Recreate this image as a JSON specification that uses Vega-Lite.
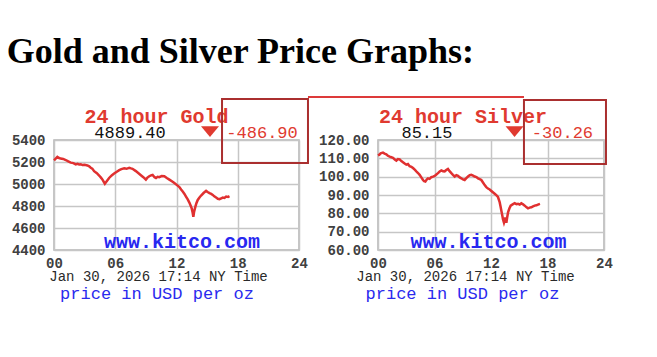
{
  "$schema": "https://vega.github.io/schema/vega-lite/v6.json",
  "background": "white",
  "padding": {"left": 6, "top": 34, "right": 5, "bottom": 5},
  "title": {"text": "Gold and Silver Price Graphs:", "font": "Liberation Serif", "fontSize": 36, "fontWeight": "bold", "color": "black", "anchor": "start", "dx": -4, "offset": 24},
  "bounds": "flush",
  "spacing": 79,
  "config": {
    "view": {"stroke": "#b4b4b4", "strokeWidth": 1.5},
    "axis": {"grid": true, "gridColor": "#c6c6c6", "gridWidth": 1.5, "domain": false, "ticks": false, "tickSize": 0, "labelFont": "Liberation Mono", "labelFontSize": 14, "labelFontWeight": "bold", "labelColor": "#404040", "labelOverlap": false, "tickCount": 12},
    "axisX": {"labelPadding": 6, "labelFlush": false},
    "axisY": {"labelPadding": 9}
  },
  "datasets": {
    "gold": [
      {"h": 0, "p": 5215}, {"h": 0.33, "p": 5246}, {"h": 0.5, "p": 5236}, {"h": 0.65, "p": 5231}, {"h": 0.9, "p": 5228},
      {"h": 1.15, "p": 5218}, {"h": 1.4, "p": 5205}, {"h": 1.64, "p": 5194}, {"h": 1.9, "p": 5190}, {"h": 2.13, "p": 5178},
      {"h": 2.3, "p": 5184}, {"h": 2.46, "p": 5178}, {"h": 2.62, "p": 5180}, {"h": 2.78, "p": 5172}, {"h": 3.0, "p": 5174},
      {"h": 3.27, "p": 5169}, {"h": 3.45, "p": 5160}, {"h": 3.6, "p": 5148}, {"h": 3.75, "p": 5140}, {"h": 3.93, "p": 5117},
      {"h": 4.2, "p": 5098}, {"h": 4.42, "p": 5077}, {"h": 4.6, "p": 5058}, {"h": 4.75, "p": 5040}, {"h": 4.98, "p": 5003},
      {"h": 5.2, "p": 5030}, {"h": 5.4, "p": 5055}, {"h": 5.65, "p": 5078}, {"h": 5.89, "p": 5095}, {"h": 6.15, "p": 5112},
      {"h": 6.39, "p": 5126}, {"h": 6.6, "p": 5135}, {"h": 6.88, "p": 5142}, {"h": 7.1, "p": 5138}, {"h": 7.37, "p": 5148},
      {"h": 7.55, "p": 5142}, {"h": 7.69, "p": 5138}, {"h": 8.02, "p": 5117}, {"h": 8.25, "p": 5100}, {"h": 8.51, "p": 5080},
      {"h": 8.75, "p": 5062}, {"h": 9.0, "p": 5040}, {"h": 9.15, "p": 5058}, {"h": 9.33, "p": 5071}, {"h": 9.5, "p": 5079},
      {"h": 9.66, "p": 5083}, {"h": 9.85, "p": 5062}, {"h": 9.99, "p": 5055}, {"h": 10.15, "p": 5066}, {"h": 10.31, "p": 5062},
      {"h": 10.55, "p": 5072}, {"h": 10.81, "p": 5071}, {"h": 11.05, "p": 5055}, {"h": 11.3, "p": 5040}, {"h": 11.55, "p": 5025},
      {"h": 11.79, "p": 5009}, {"h": 12.05, "p": 4990}, {"h": 12.28, "p": 4972}, {"h": 12.45, "p": 4950}, {"h": 12.61, "p": 4932},
      {"h": 12.78, "p": 4910}, {"h": 12.93, "p": 4886}, {"h": 13.1, "p": 4860}, {"h": 13.26, "p": 4831}, {"h": 13.4, "p": 4800},
      {"h": 13.49, "p": 4778}, {"h": 13.58, "p": 4740}, {"h": 13.65, "p": 4701}, {"h": 13.72, "p": 4745}, {"h": 13.85, "p": 4794},
      {"h": 13.95, "p": 4825}, {"h": 14.08, "p": 4855}, {"h": 14.25, "p": 4878}, {"h": 14.41, "p": 4895}, {"h": 14.65, "p": 4918},
      {"h": 14.9, "p": 4938}, {"h": 15.05, "p": 4928}, {"h": 15.23, "p": 4917}, {"h": 15.4, "p": 4910}, {"h": 15.55, "p": 4901},
      {"h": 15.7, "p": 4888}, {"h": 15.88, "p": 4877}, {"h": 16.05, "p": 4866}, {"h": 16.21, "p": 4862}, {"h": 16.38, "p": 4870},
      {"h": 16.54, "p": 4877}, {"h": 16.7, "p": 4874}, {"h": 16.86, "p": 4886}, {"h": 17.05, "p": 4882}, {"h": 17.19, "p": 4889}
    ],
    "silver": [
      {"h": 0, "p": 111.6}, {"h": 0.15, "p": 112.0}, {"h": 0.28, "p": 112.7}, {"h": 0.53, "p": 113.1}, {"h": 0.7, "p": 112.6},
      {"h": 0.88, "p": 112.2}, {"h": 1.05, "p": 111.4}, {"h": 1.24, "p": 110.9}, {"h": 1.42, "p": 110.6}, {"h": 1.59, "p": 110.3},
      {"h": 1.78, "p": 109.4}, {"h": 1.95, "p": 108.8}, {"h": 2.12, "p": 109.6}, {"h": 2.3, "p": 109.4}, {"h": 2.48, "p": 108.5},
      {"h": 2.65, "p": 107.9}, {"h": 2.83, "p": 107.2}, {"h": 3.01, "p": 106.6}, {"h": 3.18, "p": 106.9}, {"h": 3.36, "p": 105.7},
      {"h": 3.55, "p": 105.3}, {"h": 3.72, "p": 104.7}, {"h": 3.9, "p": 103.8}, {"h": 4.07, "p": 102.9}, {"h": 4.25, "p": 102.0},
      {"h": 4.42, "p": 101.0}, {"h": 4.6, "p": 99.6}, {"h": 4.78, "p": 98.2}, {"h": 4.9, "p": 97.5}, {"h": 5.03, "p": 97.3},
      {"h": 5.17, "p": 98.4}, {"h": 5.31, "p": 99.1}, {"h": 5.48, "p": 98.8}, {"h": 5.66, "p": 99.7}, {"h": 5.84, "p": 100.0},
      {"h": 6.02, "p": 100.4}, {"h": 6.2, "p": 101.2}, {"h": 6.37, "p": 101.9}, {"h": 6.55, "p": 102.8}, {"h": 6.73, "p": 103.4},
      {"h": 6.9, "p": 103.0}, {"h": 7.08, "p": 102.9}, {"h": 7.25, "p": 103.6}, {"h": 7.43, "p": 104.2}, {"h": 7.6, "p": 103.0},
      {"h": 7.79, "p": 101.9}, {"h": 7.96, "p": 101.0}, {"h": 8.14, "p": 100.1}, {"h": 8.32, "p": 100.8}, {"h": 8.5, "p": 100.4},
      {"h": 8.68, "p": 99.6}, {"h": 8.85, "p": 99.1}, {"h": 9.02, "p": 98.5}, {"h": 9.2, "p": 98.2}, {"h": 9.38, "p": 99.2},
      {"h": 9.56, "p": 100.1}, {"h": 9.74, "p": 100.8}, {"h": 9.91, "p": 101.0}, {"h": 10.1, "p": 100.6}, {"h": 10.27, "p": 100.1},
      {"h": 10.45, "p": 99.8}, {"h": 10.62, "p": 99.1}, {"h": 10.8, "p": 98.7}, {"h": 10.97, "p": 98.2}, {"h": 11.15, "p": 96.8},
      {"h": 11.33, "p": 95.4}, {"h": 11.5, "p": 94.3}, {"h": 11.68, "p": 93.5}, {"h": 11.86, "p": 93.0}, {"h": 12.04, "p": 92.2},
      {"h": 12.2, "p": 91.5}, {"h": 12.39, "p": 90.7}, {"h": 12.56, "p": 89.9}, {"h": 12.74, "p": 88.9}, {"h": 12.92, "p": 86.1},
      {"h": 13.02, "p": 83.6}, {"h": 13.1, "p": 81.4}, {"h": 13.2, "p": 78.8}, {"h": 13.27, "p": 76.8}, {"h": 13.38, "p": 74.9},
      {"h": 13.45, "p": 76.0}, {"h": 13.52, "p": 77.7}, {"h": 13.58, "p": 76.2}, {"h": 13.63, "p": 74.9}, {"h": 13.72, "p": 77.8},
      {"h": 13.81, "p": 80.5}, {"h": 13.95, "p": 82.6}, {"h": 14.09, "p": 84.2}, {"h": 14.3, "p": 84.9}, {"h": 14.51, "p": 85.5},
      {"h": 14.7, "p": 85.0}, {"h": 14.87, "p": 85.2}, {"h": 15.05, "p": 84.8}, {"h": 15.22, "p": 85.5}, {"h": 15.4, "p": 84.9},
      {"h": 15.58, "p": 84.2}, {"h": 15.75, "p": 83.4}, {"h": 15.93, "p": 82.7}, {"h": 16.1, "p": 83.1}, {"h": 16.28, "p": 83.3},
      {"h": 16.46, "p": 83.8}, {"h": 16.64, "p": 84.2}, {"h": 16.82, "p": 84.4}, {"h": 16.99, "p": 84.8}, {"h": 17.2, "p": 85.2}
    ]
  },
  "hconcat": [
    {
      "width": 245,
      "height": 110,
      "layer": [
        {
          "data": {"name": "gold"},
          "mark": {"type": "line", "color": "#e03030", "strokeWidth": 2.5},
          "encoding": {
            "x": {"field": "h", "type": "quantitative", "scale": {"domain": [0, 24], "nice": false}, "axis": {"title": null, "values": [0, 6, 12, 18, 24], "tickCount": 12, "labelExpr": "datum.value < 10 ? '0' + datum.value : '' + datum.value"}},
            "y": {"field": "p", "type": "quantitative", "scale": {"domain": [4400, 5400], "nice": false, "zero": false}, "axis": {"title": null, "values": [4400, 4600, 4800, 5000, 5200, 5400], "tickCount": 12, "format": "d"}}
          }
        },
        {
          "data": {"values": [{"t": "24 hour Gold"}]},
          "mark": {"type": "text", "font": "Liberation Mono", "fontSize": 20, "fontWeight": "bold", "color": "#e03a30", "align": "center", "baseline": "alphabetic"},
          "encoding": {"x": {"datum": 10.04, "type": "quantitative"}, "y": {"datum": 5555, "type": "quantitative"}, "text": {"field": "t"}}
        },
        {
          "data": {"values": [{"t": "4889.40"}]},
          "mark": {"type": "text", "font": "Liberation Mono", "fontSize": 17, "color": "#111111", "align": "center", "baseline": "alphabetic"},
          "encoding": {"x": {"datum": 7.45, "type": "quantitative"}, "y": {"datum": 5418, "type": "quantitative"}, "text": {"field": "t"}}
        },
        {
          "data": {"values": [{"t": "-486.90"}]},
          "mark": {"type": "text", "font": "Liberation Mono", "fontSize": 17, "color": "#e03a30", "align": "center", "baseline": "alphabetic"},
          "encoding": {"x": {"datum": 20.38, "type": "quantitative"}, "y": {"datum": 5418, "type": "quantitative"}, "text": {"field": "t"}}
        },
        {
          "data": {"values": [{"dir": "down"}]},
          "mark": {"type": "point", "shape": "M-1,-0.6L1,-0.6L0,0.6Z", "filled": true, "color": "#e03a30", "opacity": 1, "size": 324},
          "encoding": {"x": {"datum": 15.28, "type": "quantitative"}, "y": {"datum": 5477, "type": "quantitative"}}
        },
        {
          "data": {"values": [{"t": "www.kitco.com"}]},
          "mark": {"type": "text", "font": "Liberation Mono", "fontSize": 20, "fontWeight": "bold", "color": "#2828f0", "align": "center", "baseline": "alphabetic"},
          "encoding": {"x": {"datum": 12.54, "type": "quantitative"}, "y": {"datum": 4418, "type": "quantitative"}, "text": {"field": "t"}}
        },
        {
          "data": {"values": [{"t": "Jan 30, 2026 17:14 NY Time"}]},
          "mark": {"type": "text", "font": "Liberation Mono", "fontSize": 14, "color": "#2a2a2a", "align": "center", "baseline": "alphabetic"},
          "encoding": {"x": {"datum": 10.24, "type": "quantitative"}, "y": {"datum": 4118, "type": "quantitative"}, "text": {"field": "t"}}
        },
        {
          "data": {"values": [{"t": "price in USD per oz"}]},
          "mark": {"type": "text", "font": "Liberation Mono", "fontSize": 17, "color": "#2a2aee", "align": "center", "baseline": "alphabetic"},
          "encoding": {"x": {"datum": 10.09, "type": "quantitative"}, "y": {"datum": 3955, "type": "quantitative"}, "text": {"field": "t"}}
        },
        {
          "data": {"values": [{"box": "change"}]},
          "mark": {"type": "rect", "fill": null, "filled": false, "stroke": "#aa2f2f", "strokeWidth": 2},
          "encoding": {"x": {"datum": 16.46, "type": "quantitative"}, "x2": {"datum": 24.88}, "y": {"datum": 5773, "type": "quantitative"}, "y2": {"datum": 5191}}
        },
        {
          "data": {"values": [{"line": "link"}]},
          "mark": {"type": "rule", "color": "#dd3a3a", "strokeWidth": 2},
          "encoding": {"x": {"datum": 24.88, "type": "quantitative"}, "x2": {"datum": 46.04}, "y": {"datum": 5791, "type": "quantitative"}}
        }
      ]
    },
    {
      "width": 226,
      "height": 110,
      "layer": [
        {
          "data": {"name": "silver"},
          "mark": {"type": "line", "color": "#e03030", "strokeWidth": 2.5},
          "encoding": {
            "x": {"field": "h", "type": "quantitative", "scale": {"domain": [0, 24], "nice": false}, "axis": {"title": null, "values": [0, 6, 12, 18, 24], "tickCount": 12, "labelExpr": "datum.value < 10 ? '0' + datum.value : '' + datum.value"}},
            "y": {"field": "p", "type": "quantitative", "scale": {"domain": [60, 120], "nice": false, "zero": false}, "axis": {"title": null, "values": [60, 70, 80, 90, 100, 110, 120], "tickCount": 12, "format": ".2f"}}
          }
        },
        {
          "data": {"values": [{"t": "24 hour Silver"}]},
          "mark": {"type": "text", "font": "Liberation Mono", "fontSize": 20, "fontWeight": "bold", "color": "#e03a30", "align": "center", "baseline": "alphabetic"},
          "encoding": {"x": {"datum": 9.03, "type": "quantitative"}, "y": {"datum": 129.3, "type": "quantitative"}, "text": {"field": "t"}}
        },
        {
          "data": {"values": [{"t": "85.15"}]},
          "mark": {"type": "text", "font": "Liberation Mono", "fontSize": 17, "color": "#111111", "align": "center", "baseline": "alphabetic"},
          "encoding": {"x": {"datum": 5.2, "type": "quantitative"}, "y": {"datum": 121.1, "type": "quantitative"}, "text": {"field": "t"}}
        },
        {
          "data": {"values": [{"t": "-30.26"}]},
          "mark": {"type": "text", "font": "Liberation Mono", "fontSize": 17, "color": "#e03a30", "align": "center", "baseline": "alphabetic"},
          "encoding": {"x": {"datum": 19.59, "type": "quantitative"}, "y": {"datum": 121.1, "type": "quantitative"}, "text": {"field": "t"}}
        },
        {
          "data": {"values": [{"dir": "down"}]},
          "mark": {"type": "point", "shape": "M-1,-0.6L1,-0.6L0,0.6Z", "filled": true, "color": "#e03a30", "opacity": 1, "size": 324},
          "encoding": {"x": {"datum": 14.5, "type": "quantitative"}, "y": {"datum": 124.6, "type": "quantitative"}}
        },
        {
          "data": {"values": [{"t": "www.kitco.com"}]},
          "mark": {"type": "text", "font": "Liberation Mono", "fontSize": 20, "fontWeight": "bold", "color": "#2828f0", "align": "center", "baseline": "alphabetic"},
          "encoding": {"x": {"datum": 11.73, "type": "quantitative"}, "y": {"datum": 61.1, "type": "quantitative"}, "text": {"field": "t"}}
        },
        {
          "data": {"values": [{"t": "Jan 30, 2026 17:14 NY Time"}]},
          "mark": {"type": "text", "font": "Liberation Mono", "fontSize": 14, "color": "#2a2a2a", "align": "center", "baseline": "alphabetic"},
          "encoding": {"x": {"datum": 9.29, "type": "quantitative"}, "y": {"datum": 43.1, "type": "quantitative"}, "text": {"field": "t"}}
        },
        {
          "data": {"values": [{"t": "price in USD per oz"}]},
          "mark": {"type": "text", "font": "Liberation Mono", "fontSize": 17, "color": "#2a2aee", "align": "center", "baseline": "alphabetic"},
          "encoding": {"x": {"datum": 8.97, "type": "quantitative"}, "y": {"datum": 33.3, "type": "quantitative"}, "text": {"field": "t"}}
        },
        {
          "data": {"values": [{"box": "change"}]},
          "mark": {"type": "rect", "fill": null, "filled": false, "stroke": "#aa2f2f", "strokeWidth": 2},
          "encoding": {"x": {"datum": 15.5, "type": "quantitative"}, "x2": {"datum": 24.21}, "y": {"datum": 141.8, "type": "quantitative"}, "y2": {"datum": 106.9}}
        }
      ]
    }
  ]
}
